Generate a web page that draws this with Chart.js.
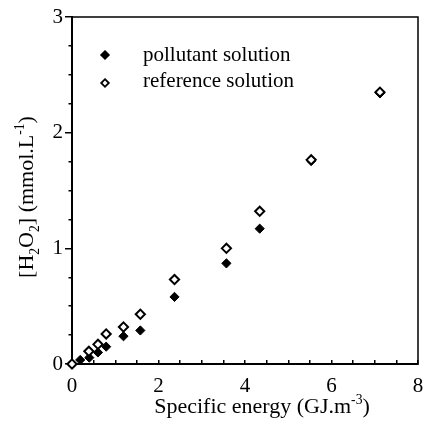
<!DOCTYPE html>
<html>
<head>
<meta charset="utf-8">
<script src="https://cdn.jsdelivr.net/npm/chart.js@4"></script>
<style>
  body { margin: 0; background: #fff; }
  #wrap { width: 425px; height: 422px; }
</style>
</head>
<body>
<div id="wrap"><canvas id="h2o2Chart" width="425" height="422"></canvas></div>
<script>
// values
const energyPollutant = [0.19, 0.40, 0.60, 0.79, 1.19, 1.58, 2.37, 3.57, 4.34, 5.53, 7.12];
const h2o2Pollutant = [0.035, 0.055, 0.10, 0.15, 0.24, 0.29, 0.58, 0.87, 1.17, 1.755, 2.34];
const energyReference = [0, 0.39, 0.60, 0.79, 1.19, 1.58, 2.37, 3.57, 4.34, 5.53, 7.12];
const h2o2Reference = [0, 0.11, 0.17, 0.26, 0.32, 0.43, 0.73, 1.0, 1.32, 1.765, 2.35];
const seriesNames = ["pollutant solution", "reference solution"];
const xLabels = [0, 2, 4, 6, 8];
const yLabels = [0, 1, 2, 3];

const serif = "'Liberation Serif', 'Times New Roman', serif";

// draw text with sub/superscripts, centred on cx, baseline at cy
function drawRich(ctx, runs, cx, cy, size) {
  let w = 0;
  runs.forEach(r => {
    ctx.font = (r.s ? size * 0.62 : size) + "px " + serif;
    r.w = ctx.measureText(r.t).width;
    w += r.w;
  });
  let x = cx - w / 2;
  runs.forEach(r => {
    ctx.font = (r.s ? size * 0.62 : size) + "px " + serif;
    let dy = 0;
    if (r.s === "sub") dy = size * 0.28;
    if (r.s === "sup") dy = -size * 0.42;
    ctx.fillText(r.t, x, cy + dy);
    x += r.w;
  });
}

function diamond(ctx, x, y, r, filled) {
  ctx.beginPath();
  ctx.moveTo(x, y - r);
  ctx.lineTo(x + r, y);
  ctx.lineTo(x, y + r);
  ctx.lineTo(x - r, y);
  ctx.closePath();
  ctx.fillStyle = filled ? "#000" : "#fff";
  ctx.fill();
  ctx.lineWidth = 1.8;
  ctx.strokeStyle = "#000";
  ctx.stroke();
}

const extras = {
  id: "extras",
  afterDraw(chart) {
    const { ctx, chartArea: a } = chart;
    ctx.save();
    // top and right frame
    ctx.strokeStyle = "#000";
    ctx.lineWidth = 1.5;
    ctx.beginPath();
    ctx.moveTo(a.left, a.top);
    ctx.lineTo(a.right, a.top);
    ctx.lineTo(a.right, a.bottom);
    ctx.stroke();

    // legend
    diamond(ctx, 105, 55, 3.8, true);
    diamond(ctx, 105, 83, 3.8, false);
    ctx.fillStyle = "#000";
    ctx.textBaseline = "alphabetic";
    ctx.textAlign = "left";
    ctx.font = "21px " + serif;
    ctx.fillText(seriesNames[0], 143, 61);
    ctx.fillText(seriesNames[1], 143, 87);

    // axis titles
    drawRich(ctx, [
      { t: "Specific energy (GJ.m" }, { t: "-3", s: "sup" }, { t: ")" }
    ], 262, 413, 22);

    ctx.translate(33, 197);
    ctx.rotate(-Math.PI / 2);
    drawRich(ctx, [
      { t: "[H" }, { t: "2", s: "sub" }, { t: "O" }, { t: "2", s: "sub" },
      { t: "] (mmol.L" }, { t: "-1", s: "sup" }, { t: ")" }
    ], 0, 0, 22);
    ctx.restore();
  }
};

const ctx = document.getElementById("h2o2Chart").getContext("2d");
new Chart(ctx, {
  type: "scatter",
  data: {
    datasets: [
      {
        label: seriesNames[1],
        data: energyReference.map((x, i) => ({ x: x, y: h2o2Reference[i] })),
        pointStyle: "rectRot",
        pointRadius: 4.6,
        backgroundColor: "#fff",
        borderColor: "#000",
        borderWidth: 2,
        clip: false,
        order: 0
      },
      {
        label: seriesNames[0],
        data: energyPollutant.map((x, i) => ({ x: x, y: h2o2Pollutant[i] })),
        pointStyle: "rectRot",
        pointRadius: 4.6,
        backgroundColor: "#000",
        borderColor: "#000",
        borderWidth: 1,
        clip: false,
        order: 1
      }
    ]
  },
  options: {
    responsive: false,
    animation: false,
    devicePixelRatio: 1,
    layout: { padding: { top: 17, right: 7, left: 0, bottom: 0 } },
    plugins: {
      legend: { display: false },
      tooltip: { enabled: false }
    },
    scales: {
      x: {
        type: "linear",
        min: 0,
        max: 8,
        afterFit(s) {
          s.height = 58;
          s.paddingLeft = 0;
          s.paddingRight = 0;
        },
        ticks: {
          stepSize: 0.5,
          autoSkip: false,
          maxRotation: 0,
          padding: 14,
          color: "#000",
          font: { family: serif, size: 21 },
          callback: v => (xLabels.includes(v) ? String(v) : "")
        },
        grid: { drawOnChartArea: false, tickLength: -4, color: "#000", lineWidth: 1.5 },
        border: { color: "#000", width: 2 }
      },
      y: {
        type: "linear",
        min: 0,
        max: 3,
        afterFit(s) {
          s.width = 72;
          s.paddingTop = 0;
          s.paddingBottom = 0;
        },
        ticks: {
          stepSize: 0.25,
          autoSkip: false,
          padding: 2,
          color: "#000",
          font: { family: serif, size: 21 },
          callback: v => (yLabels.includes(v) ? String(v) : "")
        },
        grid: {
          drawOnChartArea: false,
          tickLength: 7,
          color: "#000",
          lineWidth: 1.5,
          // minor ticks only half as long
          tickBorderDash: c => (c.tick && yLabels.includes(c.tick.value) ? [] : [0, 3.5, 10])
        },
        border: { color: "#000", width: 2 }
      }
    }
  },
  plugins: [extras]
});
</script>
</body>
</html>
